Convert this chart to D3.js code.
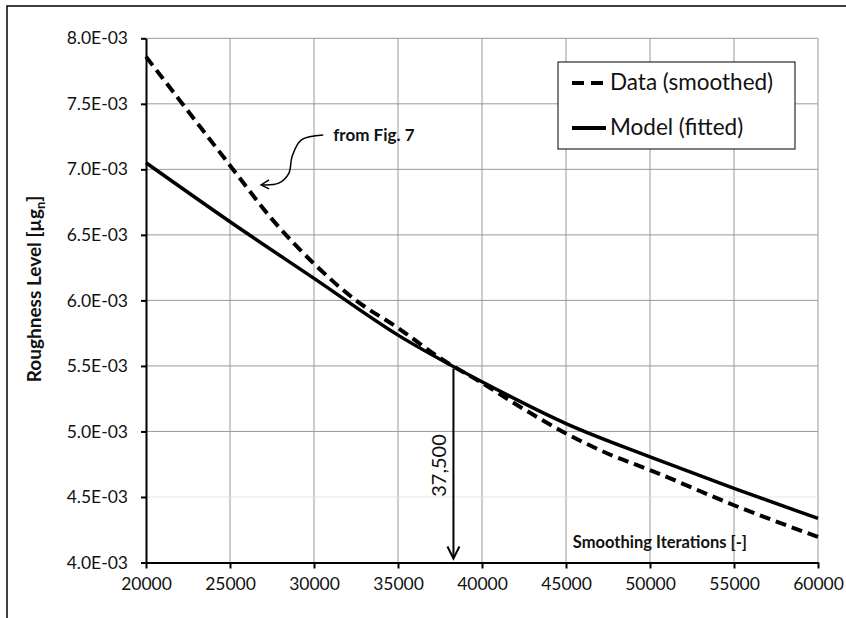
<!DOCTYPE html>
<html>
<head>
<meta charset="utf-8">
<script src="https://cdn.jsdelivr.net/npm/d3@7"></script>
<style>
  body { margin: 0; background: #fff; }
  text { font-family: Lato, 'Open Sans', sans-serif; fill: #111; }
</style>
</head>
<body>
<div id="chart"></div>
<script>
// Data (smoothed)
const dataIters = [20000, 22500, 25000, 27500, 30000, 32500, 35000, 37500, 40000, 42500, 45000, 47500, 50000, 55000, 60000]
const dataLevel = [7.86e-3, 7.445e-3, 7.03e-3, 6.62e-3, 6.28e-3, 6.0e-3, 5.79e-3, 5.56e-3, 5.37e-3, 5.17e-3, 4.985e-3, 4.83e-3, 4.705e-3, 4.437e-3, 4.195e-3]

// Model (fitted)
const modelIters = [20000, 25000, 30000, 35000, 40000, 45000, 50000, 55000, 60000]
const modelLevel = [7.05e-3, 6.60e-3, 6.168e-3, 5.735e-3, 5.379e-3, 5.06e-3, 4.806e-3, 4.565e-3, 4.336e-3]

// Axis ticks
const xTicks = [20000, 25000, 30000, 35000, 40000, 45000, 50000, 55000, 60000]
const yTicks = [4.0e-3, 4.5e-3, 5.0e-3, 5.5e-3, 6.0e-3, 6.5e-3, 7.0e-3, 7.5e-3, 8.0e-3]
const yTickLabels = ['4.0E-03', '4.5E-03', '5.0E-03', '5.5E-03', '6.0E-03', '6.5E-03', '7.0E-03', '7.5E-03', '8.0E-03']

// Annotations
const markerIter = 38300
const markerLevel = 5.48e-3
const markerLabel = '37,500'
const markerLabelLevel = 4.74e-3
const noteLabel = 'from Fig. 7'
const noteIters = [30550, 29250, 28700, 28500, 27900, 26850]
const noteLevels = [7.262e-3, 7.225e-3, 7.10e-3, 6.97e-3, 6.895e-3, 6.882e-3]

const seriesNames = ['Data (smoothed)', 'Model (fitted)']

const width = 846
const height = 618
const margin = {left: 146, right: 28, top: 38.3, bottom: 55.5}

const svg = d3.select('#chart')
  .append('svg')
  .attr('width', width)
  .attr('height', height)

const xScale = d3.scaleLinear().domain([20000, 60000]).range([margin.left, width - margin.right])
const yScale = d3.scaleLinear().domain([4.0e-3, 8.0e-3]).range([height - margin.bottom, margin.top])

// Outer frame (only top and left show)
svg.append('path')
  .attr('d', `M7,${height} V6 H${width}`)
  .attr('fill', 'none')
  .attr('stroke', '#000')
  .attr('stroke-width', 1.5)

// Gridlines
const gGrid = svg.append('g')
gGrid.selectAll('.xgrid')
  .data(xTicks.slice(1))
  .join('line')
  .attr('class', 'xgrid')
  .attr('x1', d => xScale(d)).attr('x2', d => xScale(d))
  .attr('y1', yScale(8.0e-3)).attr('y2', yScale(4.0e-3))
  .attr('stroke', '#9a9a9a')
  .attr('stroke-width', 1)
gGrid.selectAll('.ygrid')
  .data(yTicks.slice(1))
  .join('line')
  .attr('class', 'ygrid')
  .attr('x1', xScale(20000)).attr('x2', xScale(60000))
  .attr('y1', d => yScale(d)).attr('y2', d => yScale(d))
  .attr('stroke', d => d === 4.5e-3 ? '#e4e4e4' : '#9a9a9a')
  .attr('stroke-width', 1)

// Axes
const lAxis = svg.append('g')
  .attr('transform', `translate(${margin.left},0)`)
  .call(d3.axisLeft(yScale)
    .tickValues(yTicks)
    .tickFormat((d, i) => yTickLabels[i])
    .tickSize(5)
    .tickSizeOuter(0)
    .tickPadding(13))
const bAxis = svg.append('g')
  .attr('transform', `translate(0,${height - margin.bottom})`)
  .call(d3.axisBottom(xScale)
    .tickValues(xTicks)
    .tickFormat(d => d)
    .tickSize(6)
    .tickSizeOuter(0)
    .tickPadding(9))

;[lAxis, bAxis].forEach(ax => {
  ax.select('.domain').attr('stroke', '#000').attr('stroke-width', 2)
  ax.selectAll('.tick line').attr('stroke', '#000').attr('stroke-width', 2)
  ax.selectAll('.tick text')
    .style('font-family', 'Lato, sans-serif')
    .style('font-size', '17.5px')
    .attr('fill', '#222')
})

// Lines
const linePath = d3.line()
  .curve(d3.curveMonotoneX)
  .x(d => xScale(d.x))
  .y(d => yScale(d.y))

const dataPts = dataIters.map((x, i) => ({x: x, y: dataLevel[i]}))
const modelPts = modelIters.map((x, i) => ({x: x, y: modelLevel[i]}))

svg.append('path')
  .attr('d', linePath(modelPts))
  .attr('fill', 'none')
  .attr('stroke', '#000')
  .attr('stroke-width', 3.5)

svg.append('path')
  .attr('d', linePath(dataPts))
  .attr('fill', 'none')
  .attr('stroke', '#000')
  .attr('stroke-width', 4)
  .attr('stroke-dasharray', '11,6')

// Vertical marker arrow
const mx = xScale(markerIter)
const tipY = yScale(4.0e-3) - 4
svg.append('line')
  .attr('x1', mx).attr('x2', mx)
  .attr('y1', yScale(markerLevel)).attr('y2', tipY)
  .attr('stroke', '#000')
  .attr('stroke-width', 2)
svg.append('path')
  .attr('d', `M${mx - 6},${tipY - 12} L${mx},${tipY} L${mx + 6},${tipY - 12}`)
  .attr('fill', 'none')
  .attr('stroke', '#000')
  .attr('stroke-width', 2)
svg.append('text')
  .attr('transform', `translate(${mx - 7},${yScale(markerLabelLevel)}) rotate(-90)`)
  .attr('text-anchor', 'middle')
  .style('font-size', '20px')
  .text(markerLabel)

// "from Fig. 7" callout
const notePts = noteIters.map((x, i) => ({x: x, y: noteLevels[i]}))
const noteLine = d3.line()
  .curve(d3.curveCatmullRom)
  .x(d => xScale(d.x))
  .y(d => yScale(d.y))
svg.append('path')
  .attr('d', noteLine(notePts))
  .attr('fill', 'none')
  .attr('stroke', '#000')
  .attr('stroke-width', 1.5)
const tip = notePts[notePts.length - 1]
const tx = xScale(tip.x), ty = yScale(tip.y)
svg.append('path')
  .attr('d', `M${tx + 8},${ty - 5} L${tx},${ty} L${tx + 8},${ty + 4}`)
  .attr('fill', 'none')
  .attr('stroke', '#000')
  .attr('stroke-width', 1.5)
svg.append('text')
  .attr('x', xScale(noteIters[0]) + 10)
  .attr('y', yScale(noteLevels[0]) + 6)
  .style('font-size', '17px')
  .style('font-weight', 'bold')
  .text(noteLabel)

// Axis titles
svg.append('text')
  .attr('x', 747)
  .attr('y', 548)
  .attr('text-anchor', 'end')
  .style('font-size', '16.5px')
  .style('font-weight', 'bold')
  .text('Smoothing Iterations [-]')

const yTitle = svg.append('text')
  .attr('transform', 'translate(41,289) rotate(-90)')
  .attr('text-anchor', 'middle')
  .style('font-size', '19px')
  .style('font-weight', 'bold')
yTitle.append('tspan').text('Roughness Level [µg')
yTitle.append('tspan').attr('dy', 4).style('font-size', '13px').text('n')
yTitle.append('tspan').attr('dy', -4).text(']')

// Legend
const legend = svg.append('g').attr('transform', 'translate(558,62)')
legend.append('rect')
  .attr('width', 237).attr('height', 87)
  .attr('fill', '#fff')
  .attr('stroke', '#000')
  .attr('stroke-width', 1)
legend.selectAll('.leg-line')
  .data(seriesNames)
  .join('line')
  .attr('class', 'leg-line')
  .attr('x1', 14).attr('x2', 48)
  .attr('y1', (d, i) => 21 + i * 45).attr('y2', (d, i) => 21 + i * 45)
  .attr('stroke', '#000')
  .attr('stroke-width', 4)
  .attr('stroke-dasharray', (d, i) => i === 0 ? '12,7' : null)
legend.selectAll('.leg-text')
  .data(seriesNames)
  .join('text')
  .attr('class', 'leg-text')
  .attr('x', 52)
  .attr('y', (d, i) => 28 + i * 45)
  .style('font-size', '22.5px')
  .text(d => d)
</script>
</body>
</html>
